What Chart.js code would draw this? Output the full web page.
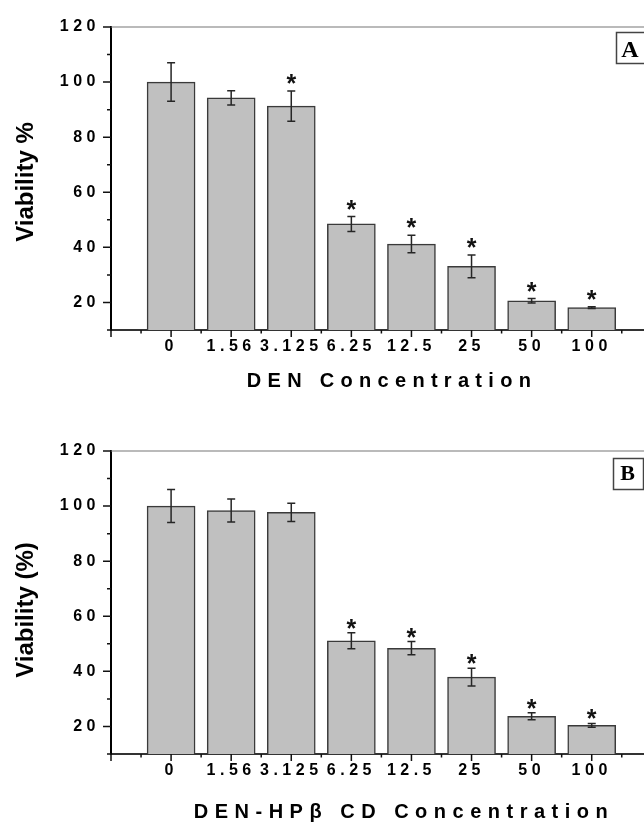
<!DOCTYPE html>
<html>
<head>
<meta charset="utf-8">
<script src="https://cdn.jsdelivr.net/npm/chart.js@4/dist/chart.umd.min.js"></script>
<style>
  html, body { margin: 0; padding: 0; background: #fff; overflow: hidden; }
  canvas { position: absolute; left: 0; }
</style>
</head>
<body>
<canvas id="chartA" width="644" height="400" style="top:0px"></canvas>
<canvas id="chartB" width="644" height="423" style="top:400px"></canvas>
<script>
// concentration categories shared by both panels
const concentrations = ['0', '1.56', '3.125', '6.25', '12.5', '25', '50', '100'];

// panel A: DEN
const viabilityDEN = [100, 94.3, 91.3, 48.5, 41.2, 33.1, 20.6, 18.1];
const errorDEN = [7, 2.6, 5.5, 2.7, 3.2, 4.1, 0.8, 0.3];
const starsDEN = [false, false, true, true, true, true, true, true];

// panel B: DEN-HPβCD
const viabilityComplex = [100, 98.4, 97.7, 51.1, 48.4, 37.9, 23.7, 20.4];
const errorComplex = [6, 4.2, 3.3, 2.9, 2.4, 3.2, 1.3, 0.7];
const starsComplex = [false, false, false, true, true, true, true, true];

const yLabelled = [20, 40, 60, 80, 100, 120];

const FONT = "'Liberation Sans', Arial, sans-serif";
Chart.defaults.font.family = FONT;

const categoryLabel = v => {
    const i = Math.round(v);
    return Math.abs(v - i) < 1e-6 && i >= 0 && i < concentrations.length ? concentrations[i] : '';
};

function panelPlugins(errors, stars, look) {
    return [{
        id: 'labelSpacing',
        beforeDraw(chart) { chart.ctx.letterSpacing = '4.5px'; },
        afterDraw(chart) { chart.ctx.letterSpacing = '0px'; }
    }, {
        id: 'errorBars',
        afterDatasetsDraw(chart) {
            const {ctx, scales: {x, y}} = chart;
            const data = chart.data.datasets[0].data;
            ctx.save();
            ctx.letterSpacing = '0px';
            ctx.strokeStyle = '#262626';
            ctx.lineWidth = 1.5;
            data.forEach((d, i) => {
                const px = x.getPixelForValue(d.x);
                const hi = y.getPixelForValue(d.y + errors[i]);
                const lo = y.getPixelForValue(d.y - errors[i]);
                ctx.beginPath();
                ctx.moveTo(px, hi); ctx.lineTo(px, lo);
                ctx.moveTo(px - 4, hi); ctx.lineTo(px + 4, hi);
                ctx.moveTo(px - 4, lo); ctx.lineTo(px + 4, lo);
                ctx.stroke();
                if (stars[i]) {
                    ctx.fillStyle = '#111';
                    ctx.font = 'bold 25px ' + FONT;
                    ctx.textAlign = 'center';
                    ctx.textBaseline = 'alphabetic';
                    ctx.fillText('*', px, hi - look.starGap + 14);
                }
            });
            ctx.restore();
        }
    }, {
        id: 'frame',
        afterDraw(chart) {
            const {ctx, chartArea: a, scales: {x, y}} = chart;
            ctx.save();
            ctx.letterSpacing = '0px';
            // tick marks, major and minor
            ctx.strokeStyle = '#111';
            ctx.lineWidth = 1.5;
            ctx.beginPath();
            for (let v = 10; v <= 120; v += 10) {
                const py = y.getPixelForValue(v);
                const len = v % 20 === 0 ? 8 : 4;
                ctx.moveTo(a.left - len, py); ctx.lineTo(a.left, py);
            }
            for (let v = -1; v <= 8; v += 0.5) {
                const px = x.getPixelForValue(v);
                const len = Number.isInteger(v) ? 7 : 3.5;
                ctx.moveTo(px, a.bottom); ctx.lineTo(px, a.bottom + len);
            }
            ctx.stroke();
            // top frame line
            ctx.strokeStyle = '#777';
            ctx.lineWidth = 1.2;
            ctx.beginPath();
            ctx.moveTo(a.left, a.top); ctx.lineTo(a.right, a.top);
            ctx.stroke();

            // axis titles
            ctx.fillStyle = '#000';
            ctx.font = 'bold 20px ' + FONT;
            ctx.letterSpacing = look.xTitleSpacing + 'px';
            ctx.textAlign = 'center';
            ctx.textBaseline = 'middle';
            ctx.fillText(look.xTitle, look.xTitleX, look.xTitleY);

            ctx.letterSpacing = '0px';
            ctx.save();
            ctx.translate(33, look.yTitleY);
            ctx.rotate(-Math.PI / 2);
            ctx.font = 'bold 24px ' + FONT;
            ctx.textAlign = 'center';
            ctx.textBaseline = 'alphabetic';
            ctx.fillText(look.yTitle, 0, 0);
            ctx.restore();

            // panel letter box
            const b = look.box;
            ctx.fillStyle = '#fff';
            ctx.fillRect(b.x, b.y, b.w, b.h);
            ctx.strokeStyle = '#444';
            ctx.lineWidth = 1.5;
            ctx.strokeRect(b.x, b.y, b.w, b.h);
            ctx.fillStyle = '#000';
            ctx.font = 'bold ' + b.size + "px 'Liberation Serif', 'Times New Roman', serif";
            ctx.textAlign = 'center';
            ctx.textBaseline = 'alphabetic';
            ctx.fillText(b.letter, b.x + b.w / 2 - 1, b.baseline);
            ctx.restore();
        }
    }];
}

function buildPanel(canvasId, values, errors, stars, look) {
    const canvas = document.getElementById(canvasId);
    return new Chart(canvas, {
        type: 'bar',
        data: {
            datasets: [{
                data: values.map((v, i) => ({x: i, y: v})),
                backgroundColor: '#c0c0c0',
                borderColor: '#3a3a3a',
                borderWidth: 1.5,
                borderSkipped: 'start',
                barThickness: 48
            }]
        },
        options: {
            responsive: false,
            animation: false,
            devicePixelRatio: 1,
            layout: {padding: {top: look.plotTop, left: 0, right: 0, bottom: 0}},
            plugins: {legend: {display: false}, tooltip: {enabled: false}},
            scales: {
                x: {
                    type: 'linear',
                    offset: false,
                    min: -1,
                    max: 7.87,
                    z: 1,
                    grid: {display: false, drawTicks: false, offset: false},
                    border: {display: true, color: '#333', width: 2},
                    ticks: {
                        stepSize: 1,
                        includeBounds: false,
                        autoSkip: false,
                        maxRotation: 0,
                        padding: 7,
                        color: '#000',
                        font: {size: 16, weight: 'bold'},
                        callback: v => categoryLabel(v)
                    },
                    afterFit: s => { s.height = canvas.height - look.plotBottom; }
                },
                y: {
                    min: 10,
                    max: 120,
                    z: 1,
                    grid: {display: false, drawTicks: false},
                    border: {display: true, color: '#000', width: 2},
                    ticks: {
                        stepSize: 10,
                        padding: 11,
                        color: '#000',
                        font: {size: 16, weight: 'bold'},
                        callback: v => yLabelled.includes(v) ? String(v) : ''
                    },
                    afterFit: s => { s.width = 111; }
                }
            }
        },
        plugins: panelPlugins(errors, stars, look)
    });
}

buildPanel('chartA', viabilityDEN, errorDEN, starsDEN, {
    plotTop: 27, plotBottom: 330, starGap: 13,
    xTitle: 'DEN Concentration', xTitleX: 392, xTitleY: 381, xTitleSpacing: 6.3,
    yTitle: 'Viability %', yTitleY: 182,
    box: {x: 616.5, y: 32.5, w: 29, h: 31, letter: 'A', size: 24, baseline: 56.5}
});

buildPanel('chartB', viabilityComplex, errorComplex, starsComplex, {
    plotTop: 51, plotBottom: 354, starGap: 10,
    xTitle: 'DEN-HPβ CD Concentration', xTitleX: 404, xTitleY: 412, xTitleSpacing: 6.5,
    yTitle: 'Viability (%)', yTitleY: 210,
    box: {x: 613.5, y: 58.5, w: 30, h: 31, letter: 'B', size: 22, baseline: 79.5}
});
</script>
</body>
</html>
